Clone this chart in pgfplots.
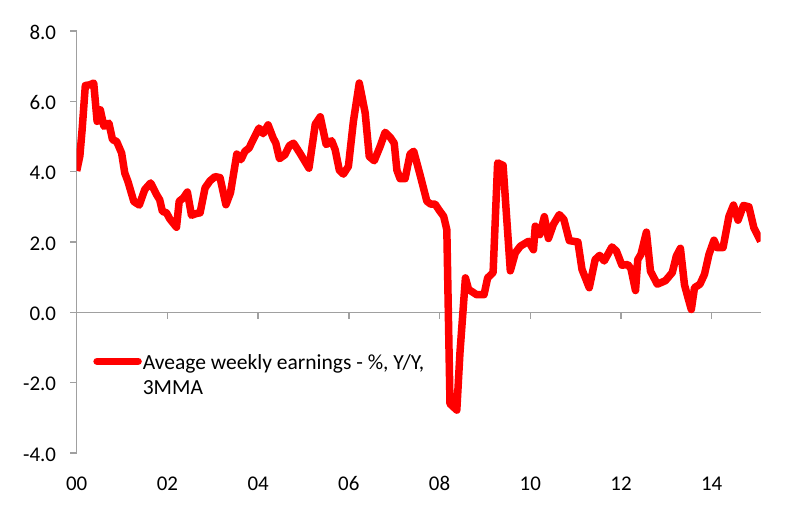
\documentclass[border=0pt]{standalone}
\usepackage{pgfplots}
\pgfplotsset{compat=1.18}
\usepackage{fontspec}
\setmainfont{Carlito}
\definecolor{axgray}{HTML}{A0A0A0}
\definecolor{lred}{HTML}{FF0000}
\begin{document}
\begin{tikzpicture}
\useasboundingbox (0,0) rectangle (807bp,509bp);
% zero line with ticks
\begin{axis}[
  at={(76.7bp,56bp)}, anchor=south west,
  scale only axis, width=684bp, height=422bp,
  xmin=0, xmax=15.08, ymin=-4, ymax=8,
  axis y line=none, axis x line*=middle,
  x axis line style={axgray, line width=1.5bp},
  xtick={0,2,...,14}, xticklabels={},
  x tick style={axgray, line width=1.5bp},
  tick align=outside, major tick length=6.5bp,
]
\addplot[draw=none] coordinates {(0,0)};
\end{axis}
\begin{axis}[
  at={(76.7bp,56bp)}, anchor=south west,
  scale only axis, width=684bp, height=422bp,
  xmin=0, xmax=15.08, ymin=-4, ymax=8,
  axis y line*=left, axis x line*=bottom,
  x axis line style={draw=none},
  y axis line style={axgray, line width=1.5bp},
  ytick={-4,-2,0,2,4,6,8},
  yticklabels={-4.0,-2.0,0.0,2.0,4.0,6.0,8.0},
  y tick style={axgray, line width=1.5bp},
  xtick={0,2,...,14},
  xticklabels={00,02,04,06,08,10,12,14},
  x tick style={draw=none},
  tick align=outside, major tick length=6.5bp,
  ticklabel style={font=\fontsize{21}{25}\selectfont, text=black},
  xticklabel style={inner sep=0pt, anchor=north, yshift=-17bp},
  yticklabel style={inner sep=0pt, anchor=east, xshift=-14bp, yshift=-1.5bp},
  legend style={at={(0.024,0.243)}, anchor=north west, draw=none, fill=none,
    inner sep=0pt, font=\fontsize{21.6}{25.5}\selectfont,
    nodes={inner sep=1bp}},
  legend cell align=left,
  legend image code/.code={\draw[#1, line cap=round] (0bp,0bp) -- (41bp,0bp);},
]
\addplot[lred, line width=7.5bp, line join=round] coordinates {
(0.00,4.02) (0.07,4.45) (0.12,5.2) (0.19,6.45) (0.29,6.47) (0.375,6.52)
(0.45,5.43) (0.52,5.76) (0.6,5.29) (0.71,5.38) (0.79,4.91) (0.88,4.86)
(0.99,4.53) (1.06,3.96) (1.13,3.72) (1.26,3.15) (1.38,3.05) (1.5,3.49)
(1.63,3.68) (1.76,3.35) (1.83,3.2) (1.89,2.87) (1.98,2.83) (2.05,2.66)
(2.2,2.42) (2.26,3.16) (2.35,3.25) (2.44,3.42) (2.53,2.76) (2.64,2.81)
(2.72,2.83) (2.83,3.54) (2.94,3.74) (3.05,3.86) (3.16,3.83) (3.29,3.06)
(3.39,3.4) (3.53,4.5) (3.62,4.34) (3.71,4.58) (3.8,4.67) (3.89,4.91)
(4.02,5.24) (4.11,5.08) (4.22,5.33) (4.33,4.96) (4.39,4.81) (4.47,4.37)
(4.59,4.48) (4.69,4.74) (4.78,4.81) (4.92,4.53) (5.12,4.1) (5.26,5.35)
(5.37,5.56) (5.5,4.77) (5.62,4.88) (5.7,4.62) (5.79,4.04) (5.88,3.93)
(5.99,4.15) (6.1,5.43) (6.23,6.52) (6.36,5.67) (6.45,4.43) (6.56,4.31)
(6.69,4.72) (6.8,5.12) (6.91,4.98) (7.0,4.81) (7.06,4.04) (7.13,3.8)
(7.24,3.8) (7.35,4.5) (7.43,4.58) (7.57,3.91) (7.72,3.16) (7.8,3.08)
(7.9,3.08) (8.01,2.87) (8.09,2.73) (8.16,2.35) (8.23,-2.6) (8.38,-2.78)
(8.45,-1.14) (8.57,0.98) (8.64,0.65) (8.82,0.5) (8.98,0.5) (9.06,0.98)
(9.18,1.13) (9.28,4.25) (9.4,4.18) (9.56,1.18) (9.67,1.69) (9.78,1.88)
(9.96,2.02) (10.07,1.78) (10.11,2.45) (10.21,2.21) (10.31,2.72) (10.4,2.1)
(10.51,2.5) (10.64,2.78) (10.74,2.64) (10.86,2.04) (11.05,2.0) (11.14,1.22)
(11.3,0.7) (11.43,1.5) (11.53,1.62) (11.63,1.46) (11.8,1.86) (11.9,1.74)
(12.02,1.34) (12.15,1.36) (12.22,1.24) (12.32,0.62) (12.37,1.5) (12.44,1.65)
(12.56,2.28) (12.65,1.17) (12.8,0.8) (12.98,0.9) (13.13,1.13) (13.22,1.6)
(13.31,1.82) (13.4,0.78) (13.48,0.4) (13.55,0.08) (13.62,0.7) (13.74,0.8)
(13.84,1.08) (13.94,1.65) (14.05,2.05) (14.12,1.84) (14.25,1.84) (14.38,2.73)
(14.48,3.05) (14.58,2.62) (14.7,3.04) (14.82,3.0) (14.93,2.4) (15.08,2.02)
};
\addlegendentry{\begin{tabular}[t]{@{}l@{}}Aveage weekly earnings - \%, Y/Y,\\3MMA\end{tabular}}
\end{axis}
\end{tikzpicture}
\end{document}
